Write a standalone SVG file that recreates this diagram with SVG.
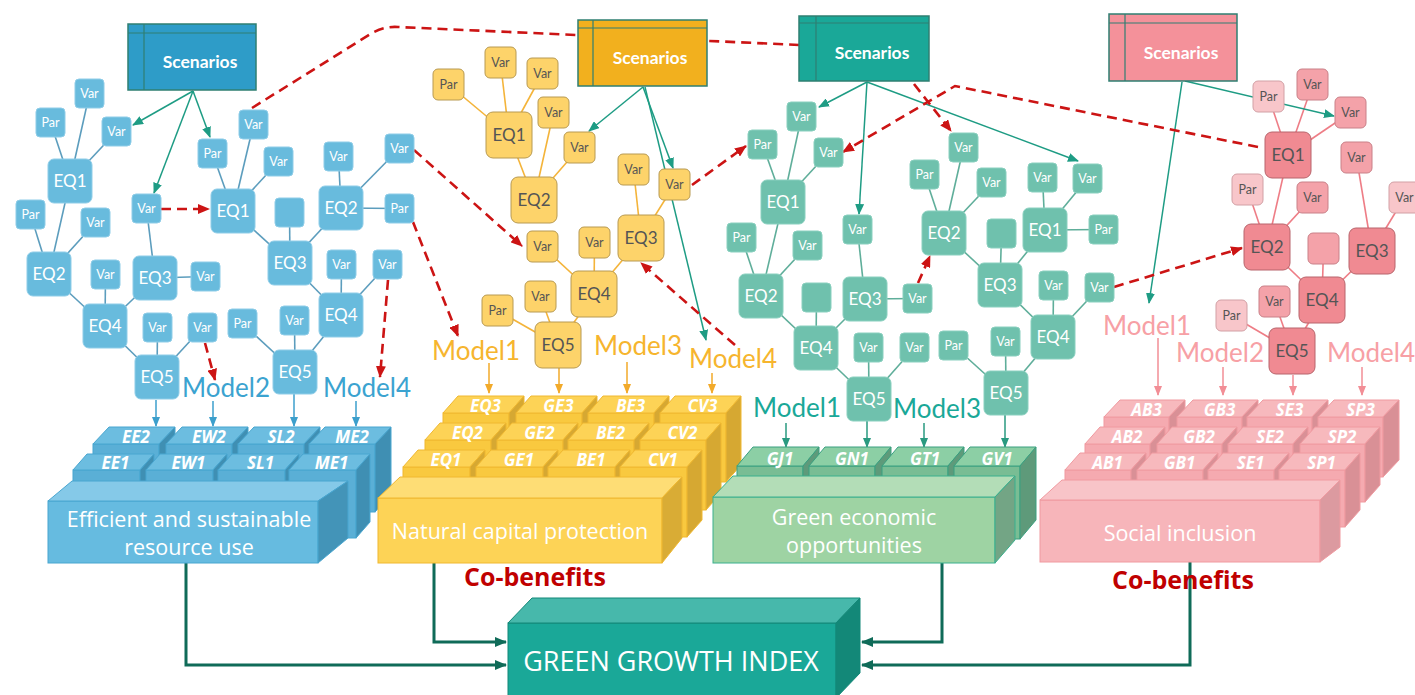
<svg xmlns="http://www.w3.org/2000/svg" width="1415" height="695" viewBox="0 0 1415 695">
<defs>
<style>
.lb{stroke:#5c9dbd;stroke-width:1.6}
.ly{stroke:#f4b43a;stroke-width:1.6}
.lt{stroke:#5fae9a;stroke-width:1.6}
.lp{stroke:#ee7d86;stroke-width:1.6}
.dash{fill:none;stroke:#cc1414;stroke-width:2.6;stroke-dasharray:10 6}
.da{marker-end:url(#mr)}
.sc{fill:none;stroke:#1e9c84;stroke-width:1.5;marker-end:url(#mg)}
.ab{stroke:#3c9fcc;stroke-width:1.5;marker-end:url(#mb)}
.ay{stroke:#f2aa2a;stroke-width:1.5;marker-end:url(#my)}
.at{stroke:#2a9a80;stroke-width:1.5;marker-end:url(#mt)}
.ap{stroke:#f28e96;stroke-width:1.5;marker-end:url(#mp)}
.gg{fill:none;stroke:#0f6b58;stroke-width:3;marker-end:url(#md)}
.nb{fill:#68bbdd;stroke:#8fcde8;stroke-width:1}
.ny{fill:#fdd36a;stroke:#b89a52;stroke-width:1}
.nt{fill:#6fc1ad;stroke:#8ad0bf;stroke-width:1}
.npE{fill:#f08a92;stroke:#b8656c;stroke-width:1}
.npV{fill:#f4a2a9;stroke:#c98088;stroke-width:1}
.npP{fill:#f8c6ca;stroke:#d2a0a5;stroke-width:1}
.scn{stroke:#2f7f72;stroke-width:1.5}
.scl{fill:none;stroke:#2f7f72;stroke-width:1.2}
text{font-family:Lato,"Open Sans","DejaVu Sans",sans-serif;text-anchor:middle}
.e{font-size:17px}
.v{font-size:12.5px}
.w{fill:#fff}
.g{fill:#555}
.st{font-size:17.5px;font-weight:700;fill:#fff}
.m{font-size:26px;font-weight:400}
.bk{font-family:"Open Sans","DejaVu Sans",sans-serif;font-size:17px;font-weight:700;font-style:italic;fill:#fff}
.bg{font-family:"Open Sans","DejaVu Sans",sans-serif;font-size:21.5px;fill:#fff}
.cb{font-family:"Open Sans","DejaVu Sans",sans-serif;font-size:25px;font-weight:700;fill:#c00000}
.bF{fill:#5aafd6;stroke:#49a6d0}.bT{fill:#6cbde0;stroke:#49a6d0}.bS{fill:#3f8fb3;stroke:#49a6d0}
.yF{fill:#f9c93f;stroke:#f0b830}.yT{fill:#fdd356;stroke:#f0b830}.yS{fill:#d6a832;stroke:#f0b830}
.gF{fill:#79bd94;stroke:#3aa080}.gT{fill:#8ccfa5;stroke:#3aa080}.gS{fill:#5e9a7a;stroke:#3aa080}
.pF{fill:#f5aab0;stroke:#f09aa0}.pT{fill:#f7b9bd;stroke:#f09aa0}.pS{fill:#d99096;stroke:#f09aa0}
</style>
<marker id="mr" markerUnits="userSpaceOnUse" markerWidth="12" markerHeight="10" refX="11" refY="5" orient="auto"><path d="M0,0 L12,5 L0,10 z" fill="#cc1414"/></marker>
<marker id="mg" markerUnits="userSpaceOnUse" markerWidth="11" markerHeight="9" refX="10" refY="4.5" orient="auto"><path d="M0,0 L11,4.5 L0,9 z" fill="#1e9c84"/></marker>
<marker id="mb" markerUnits="userSpaceOnUse" markerWidth="10" markerHeight="8" refX="9" refY="4" orient="auto"><path d="M0,0 L10,4 L0,8 z" fill="#3c9fcc"/></marker>
<marker id="my" markerUnits="userSpaceOnUse" markerWidth="10" markerHeight="8" refX="9" refY="4" orient="auto"><path d="M0,0 L10,4 L0,8 z" fill="#f2aa2a"/></marker>
<marker id="mt" markerUnits="userSpaceOnUse" markerWidth="10" markerHeight="8" refX="9" refY="4" orient="auto"><path d="M0,0 L10,4 L0,8 z" fill="#2a9a80"/></marker>
<marker id="mp" markerUnits="userSpaceOnUse" markerWidth="10" markerHeight="8" refX="9" refY="4" orient="auto"><path d="M0,0 L10,4 L0,8 z" fill="#f28e96"/></marker>
<marker id="md" markerUnits="userSpaceOnUse" markerWidth="12" markerHeight="10" refX="11" refY="5" orient="auto"><path d="M0,0 L12,5 L0,10 z" fill="#0f6b58"/></marker>
</defs>
<rect x="0" y="0" width="1415" height="695" fill="#fff"/>

<g id="connectors">
<g id="tree-links-blue" class="lb">
<line x1="70" y1="181" x2="89.5" y2="93.5"/><line x1="70" y1="181" x2="50.5" y2="122.5"/><line x1="70" y1="181" x2="116.5" y2="131.5"/><line x1="70" y1="181" x2="49" y2="274"/>
<line x1="49" y1="274" x2="30.5" y2="214.5"/><line x1="49" y1="274" x2="95.5" y2="222.5"/><line x1="49" y1="274" x2="105" y2="326"/>
<line x1="105" y1="326" x2="105.5" y2="274.5"/><line x1="105" y1="326" x2="155" y2="278"/><line x1="155" y1="278" x2="146.5" y2="208.5"/><line x1="155" y1="278" x2="205.5" y2="276.5"/>
<line x1="105" y1="326" x2="157" y2="377"/><line x1="157" y1="377" x2="157.5" y2="327.5"/><line x1="157" y1="377" x2="202.5" y2="327.5"/>
<line x1="233" y1="211" x2="212.5" y2="153.5"/><line x1="233" y1="211" x2="253.5" y2="124.5"/><line x1="233" y1="211" x2="278.5" y2="161.5"/><line x1="233" y1="211" x2="290" y2="263"/>
<line x1="290" y1="263" x2="289.5" y2="212.5"/><line x1="290" y1="263" x2="341" y2="208"/><line x1="341" y1="208" x2="338.5" y2="156.5"/><line x1="341" y1="208" x2="399.5" y2="148.5"/><line x1="341" y1="208" x2="399.5" y2="208.5"/>
<line x1="290" y1="263" x2="341" y2="315"/><line x1="341" y1="315" x2="341.5" y2="264.5"/><line x1="341" y1="315" x2="387.5" y2="264.5"/><line x1="341" y1="315" x2="295" y2="372"/>
<line x1="295" y1="372" x2="294.5" y2="320.5"/><line x1="295" y1="372" x2="242.5" y2="323.5"/>
</g>
<g id="tree-links-yellow" class="ly">
<line x1="509" y1="135" x2="448.5" y2="84.5"/><line x1="509" y1="135" x2="500.5" y2="62.5"/><line x1="509" y1="135" x2="542.5" y2="73.5"/><line x1="509" y1="135" x2="534" y2="200"/>
<line x1="534" y1="200" x2="553.5" y2="112.5"/><line x1="534" y1="200" x2="579.5" y2="147.5"/>
<line x1="641" y1="238" x2="633.5" y2="169.5"/><line x1="641" y1="238" x2="674.5" y2="184.5"/><line x1="641" y1="238" x2="594" y2="294"/>
<line x1="594" y1="294" x2="542.5" y2="246.5"/><line x1="594" y1="294" x2="594.5" y2="242.5"/><line x1="594" y1="294" x2="558" y2="345"/>
<line x1="558" y1="345" x2="540.5" y2="296.5"/><line x1="558" y1="345" x2="497.5" y2="310.5"/>
</g>
<g id="tree-links-teal" class="lt">
<line x1="783" y1="202" x2="801.5" y2="116.5"/><line x1="783" y1="202" x2="762.5" y2="144.5"/><line x1="783" y1="202" x2="828.5" y2="152.5"/><line x1="783" y1="202" x2="761" y2="296"/>
<line x1="761" y1="296" x2="741.5" y2="237.5"/><line x1="761" y1="296" x2="807.5" y2="245.5"/><line x1="761" y1="296" x2="816" y2="348"/>
<line x1="816" y1="348" x2="816.5" y2="297.5"/><line x1="816" y1="348" x2="865" y2="299"/><line x1="865" y1="299" x2="857.5" y2="229.5"/><line x1="865" y1="299" x2="917.5" y2="298.5"/>
<line x1="816" y1="348" x2="869" y2="399"/><line x1="869" y1="399" x2="868.5" y2="347.5"/><line x1="869" y1="399" x2="914.5" y2="347.5"/>
<line x1="944" y1="233" x2="963.5" y2="147.5"/><line x1="944" y1="233" x2="924.5" y2="174.5"/><line x1="944" y1="233" x2="991.5" y2="182.5"/><line x1="944" y1="233" x2="1000" y2="285"/>
<line x1="1000" y1="285" x2="1001.5" y2="233.5"/><line x1="1000" y1="285" x2="1045" y2="230"/><line x1="1045" y1="230" x2="1042.5" y2="177.5"/><line x1="1045" y1="230" x2="1087.5" y2="178.5"/><line x1="1045" y1="230" x2="1103.5" y2="229.5"/>
<line x1="1000" y1="285" x2="1053" y2="337"/><line x1="1053" y1="337" x2="1053.5" y2="285.5"/><line x1="1053" y1="337" x2="1099.5" y2="287.5"/><line x1="1053" y1="337" x2="1006" y2="393"/>
<line x1="1006" y1="393" x2="1005.5" y2="341.5"/><line x1="1006" y1="393" x2="953.5" y2="345.5"/>
</g>
<g id="tree-links-pink" class="lp">
<line x1="1288" y1="155" x2="1268.5" y2="96.5"/><line x1="1288" y1="155" x2="1312.5" y2="84.5"/><line x1="1288" y1="155" x2="1350.5" y2="112.5"/><line x1="1288" y1="155" x2="1267" y2="247"/>
<line x1="1267" y1="247" x2="1247.5" y2="189.5"/><line x1="1267" y1="247" x2="1312.5" y2="197.5"/><line x1="1267" y1="247" x2="1322" y2="300"/>
<line x1="1322" y1="300" x2="1323.5" y2="248.5"/><line x1="1322" y1="300" x2="1372" y2="251"/><line x1="1372" y1="251" x2="1356.5" y2="157.5"/><line x1="1372" y1="251" x2="1404.5" y2="197.5"/>
<line x1="1322" y1="300" x2="1292" y2="351"/><line x1="1292" y1="351" x2="1274.5" y2="301.5"/><line x1="1292" y1="351" x2="1231.5" y2="315.5"/>
</g>
<g id="scenario-links">
<line class="sc" x1="193" y1="91" x2="133" y2="125"/>
<line class="sc" x1="193" y1="91" x2="154" y2="193"/>
<line class="sc" x1="193" y1="91" x2="210" y2="137"/>
<line class="sc" x1="643" y1="87" x2="589" y2="131"/>
<line class="sc" x1="643" y1="87" x2="673" y2="168"/>
<line class="sc" x1="645" y1="87" x2="706" y2="340"/>
<line class="sc" x1="867" y1="82" x2="819" y2="107"/>
<line class="sc" x1="867" y1="82" x2="859" y2="214"/>
<line class="sc" x1="867" y1="82" x2="1078" y2="161"/>
<line class="sc" x1="1185" y1="81" x2="1334" y2="116"/>
<line class="sc" x1="1182" y1="82" x2="1149" y2="303"/>
</g>
<g id="red-links">
<path class="dash" d="M252,108 L372,33 Q385,26 398,27 L800,45"/>
<path class="dash da" d="M161,209 L209,209"/>
<path class="dash da" d="M205,343 L215,380"/>
<path class="dash da" d="M388,280 L380,377"/>
<path class="dash da" d="M413,222 L458,336"/>
<path class="dash da" d="M414,150 L522,246"/>
<path class="dash da" d="M692,185 L746,146"/>
<path class="dash da" d="M735,345 L641,263"/>
<path class="dash da" d="M914,84 L951,131"/>
<path class="dash da" d="M1258,147 L955,86 L843,152"/>
<path class="dash da" d="M918,283 L930,256"/>
<path class="dash da" d="M1114,287 L1242,248"/>
</g>
<g id="model-links">
<line class="ab" x1="156" y1="400" x2="156" y2="426"/><line class="ab" x1="213" y1="401" x2="213" y2="426"/><line class="ab" x1="294" y1="393" x2="294" y2="426"/><line class="ab" x1="356" y1="401" x2="356" y2="426"/>
<line class="ay" x1="489" y1="363" x2="489" y2="393"/><line class="ay" x1="559" y1="368" x2="559" y2="393"/><line class="ay" x1="627" y1="362" x2="627" y2="393"/><line class="ay" x1="712" y1="373" x2="712" y2="393"/>
<line class="at" x1="786" y1="423" x2="786" y2="447"/><line class="at" x1="867" y1="421" x2="867" y2="447"/><line class="at" x1="924" y1="423" x2="924" y2="447"/><line class="at" x1="1005" y1="415" x2="1005" y2="447"/>
<line class="ap" x1="1158" y1="338" x2="1158" y2="395"/><line class="ap" x1="1223" y1="367" x2="1223" y2="395"/><line class="ap" x1="1293" y1="375" x2="1293" y2="395"/><line class="ap" x1="1362" y1="367" x2="1362" y2="395"/>
</g>
<g id="index-links">
<path class="gg" d="M186,563 L186,665 L506,665"/>
<path class="gg" d="M434,563 L434,642 L506,642"/>
<path class="gg" d="M942,563 L942,642 L862,642"/>
<path class="gg" d="M1190,562 L1190,665 L862,665"/>
</g>
</g>

<g id="scenarios-blue"><rect class="scn" x="128" y="24" width="128" height="66" fill="#2e9cc8"/><path class="scl" d="M128,33 H256 M144,24 V90"/><text class="st" x="200" y="68">Scenarios</text></g>
<g id="scenarios-yellow"><rect class="scn" x="578" y="20" width="129" height="66" fill="#f2b01e"/><path class="scl" d="M578,28 H707 M593,20 V86"/><text class="st" x="650" y="64">Scenarios</text></g>
<g id="scenarios-teal"><rect class="scn" x="799" y="16" width="130" height="65" fill="#1aa898"/><path class="scl" d="M799,23 H929 M816,16 V81"/><text class="st" x="872" y="59">Scenarios</text></g>
<g id="scenarios-pink"><rect class="scn" x="1109" y="14" width="128" height="67" fill="#f4919a"/><path class="scl" d="M1109,23 H1237 M1125,14 V81"/><text class="st" x="1181" y="59">Scenarios</text></g>

<g id="blue-nodes">
<g id="b1"><rect class="nb" x="75" y="79" width="29" height="29" rx="4"/><text class="v w" x="89.5" y="98">Var</text></g>
<g id="b2"><rect class="nb" x="36" y="108" width="29" height="29" rx="4"/><text class="v w" x="50.5" y="127">Par</text></g>
<g id="b3"><rect class="nb" x="102" y="117" width="29" height="29" rx="4"/><text class="v w" x="116.5" y="136">Var</text></g>
<g id="b4"><rect class="nb" x="48" y="159" width="44" height="44" rx="6"/><text class="e w" x="70" y="187">EQ1</text></g>
<g id="b5"><rect class="nb" x="16" y="200" width="29" height="29" rx="4"/><text class="v w" x="30.5" y="219">Par</text></g>
<g id="b6"><rect class="nb" x="81" y="208" width="29" height="29" rx="4"/><text class="v w" x="95.5" y="227">Var</text></g>
<g id="b7"><rect class="nb" x="27" y="252" width="44" height="44" rx="6"/><text class="e w" x="49" y="280">EQ2</text></g>
<g id="b8"><rect class="nb" x="91" y="260" width="29" height="29" rx="4"/><text class="v w" x="105.5" y="279">Var</text></g>
<g id="b9"><rect class="nb" x="83" y="304" width="44" height="44" rx="6"/><text class="e w" x="105" y="332">EQ4</text></g>
<g id="b10"><rect class="nb" x="133" y="256" width="44" height="44" rx="6"/><text class="e w" x="155" y="284">EQ3</text></g>
<g id="b11"><rect class="nb" x="191" y="262" width="29" height="29" rx="4"/><text class="v w" x="205.5" y="281">Var</text></g>
<g id="b12"><rect class="nb" x="132" y="194" width="29" height="29" rx="4"/><text class="v w" x="146.5" y="213">Var</text></g>
<g id="b13"><rect class="nb" x="143" y="313" width="29" height="29" rx="4"/><text class="v w" x="157.5" y="332">Var</text></g>
<g id="b14"><rect class="nb" x="188" y="313" width="29" height="29" rx="4"/><text class="v w" x="202.5" y="332">Var</text></g>
<g id="b15"><rect class="nb" x="135" y="355" width="44" height="44" rx="6"/><text class="e w" x="157" y="383">EQ5</text></g>
<g id="b16"><rect class="nb" x="198" y="139" width="29" height="29" rx="4"/><text class="v w" x="212.5" y="158">Par</text></g>
<g id="b17"><rect class="nb" x="239" y="110" width="29" height="29" rx="4"/><text class="v w" x="253.5" y="129">Var</text></g>
<g id="b18"><rect class="nb" x="264" y="147" width="29" height="29" rx="4"/><text class="v w" x="278.5" y="166">Var</text></g>
<g id="b19"><rect class="nb" x="211" y="189" width="44" height="44" rx="6"/><text class="e w" x="233" y="217">EQ1</text></g>
<g id="b20"><rect class="nb" x="275" y="198" width="29" height="29" rx="4"/></g>
<g id="b21"><rect class="nb" x="268" y="241" width="44" height="44" rx="6"/><text class="e w" x="290" y="269">EQ3</text></g>
<g id="b22"><rect class="nb" x="324" y="142" width="29" height="29" rx="4"/><text class="v w" x="338.5" y="161">Var</text></g>
<g id="b23"><rect class="nb" x="319" y="186" width="44" height="44" rx="6"/><text class="e w" x="341" y="214">EQ2</text></g>
<g id="b24"><rect class="nb" x="385" y="134" width="29" height="29" rx="4"/><text class="v w" x="399.5" y="153">Var</text></g>
<g id="b25"><rect class="nb" x="385" y="194" width="29" height="29" rx="4"/><text class="v w" x="399.5" y="213">Par</text></g>
<g id="b26"><rect class="nb" x="327" y="250" width="29" height="29" rx="4"/><text class="v w" x="341.5" y="269">Var</text></g>
<g id="b27"><rect class="nb" x="373" y="250" width="29" height="29" rx="4"/><text class="v w" x="387.5" y="269">Var</text></g>
<g id="b28"><rect class="nb" x="319" y="293" width="44" height="44" rx="6"/><text class="e w" x="341" y="321">EQ4</text></g>
<g id="b29"><rect class="nb" x="228" y="309" width="29" height="29" rx="4"/><text class="v w" x="242.5" y="328">Par</text></g>
<g id="b30"><rect class="nb" x="280" y="306" width="29" height="29" rx="4"/><text class="v w" x="294.5" y="325">Var</text></g>
<g id="b31"><rect class="nb" x="273" y="350" width="44" height="44" rx="6"/><text class="e w" x="295" y="378">EQ5</text></g>
</g>

<g id="yellow-nodes">
<g id="y1"><rect class="ny" x="433" y="69" width="31" height="31" rx="5"/><text class="v g" x="448.5" y="89">Par</text></g>
<g id="y2"><rect class="ny" x="485" y="47" width="31" height="31" rx="5"/><text class="v g" x="500.5" y="67">Var</text></g>
<g id="y3"><rect class="ny" x="527" y="58" width="31" height="31" rx="5"/><text class="v g" x="542.5" y="78">Var</text></g>
<g id="y4"><rect class="ny" x="486" y="112" width="46" height="46" rx="7"/><text class="e g" x="509" y="141">EQ1</text></g>
<g id="y5"><rect class="ny" x="538" y="97" width="31" height="31" rx="5"/><text class="v g" x="553.5" y="117">Var</text></g>
<g id="y6"><rect class="ny" x="564" y="132" width="31" height="31" rx="5"/><text class="v g" x="579.5" y="152">Var</text></g>
<g id="y7"><rect class="ny" x="511" y="177" width="46" height="46" rx="7"/><text class="e g" x="534" y="206">EQ2</text></g>
<g id="y8"><rect class="ny" x="618" y="154" width="31" height="31" rx="5"/><text class="v g" x="633.5" y="174">Var</text></g>
<g id="y9"><rect class="ny" x="659" y="169" width="31" height="31" rx="5"/><text class="v g" x="674.5" y="189">Var</text></g>
<g id="y10"><rect class="ny" x="618" y="215" width="46" height="46" rx="7"/><text class="e g" x="641" y="244">EQ3</text></g>
<g id="y11"><rect class="ny" x="527" y="231" width="31" height="31" rx="5"/><text class="v g" x="542.5" y="251">Var</text></g>
<g id="y12"><rect class="ny" x="579" y="227" width="31" height="31" rx="5"/><text class="v g" x="594.5" y="247">Var</text></g>
<g id="y13"><rect class="ny" x="571" y="271" width="46" height="46" rx="7"/><text class="e g" x="594" y="300">EQ4</text></g>
<g id="y14"><rect class="ny" x="525" y="281" width="31" height="31" rx="5"/><text class="v g" x="540.5" y="301">Var</text></g>
<g id="y15"><rect class="ny" x="482" y="295" width="31" height="31" rx="5"/><text class="v g" x="497.5" y="315">Par</text></g>
<g id="y16"><rect class="ny" x="535" y="322" width="46" height="46" rx="7"/><text class="e g" x="558" y="351">EQ5</text></g>
</g>

<g id="teal-nodes">
<g id="t1"><rect class="nt" x="787" y="102" width="29" height="29" rx="4"/><text class="v w" x="801.5" y="121">Var</text></g>
<g id="t2"><rect class="nt" x="748" y="130" width="29" height="29" rx="4"/><text class="v w" x="762.5" y="149">Par</text></g>
<g id="t3"><rect class="nt" x="814" y="138" width="29" height="29" rx="4"/><text class="v w" x="828.5" y="157">Var</text></g>
<g id="t4"><rect class="nt" x="761" y="180" width="44" height="44" rx="6"/><text class="e w" x="783" y="208">EQ1</text></g>
<g id="t5"><rect class="nt" x="727" y="223" width="29" height="29" rx="4"/><text class="v w" x="741.5" y="242">Par</text></g>
<g id="t6"><rect class="nt" x="793" y="231" width="29" height="29" rx="4"/><text class="v w" x="807.5" y="250">Var</text></g>
<g id="t7"><rect class="nt" x="739" y="274" width="44" height="44" rx="6"/><text class="e w" x="761" y="302">EQ2</text></g>
<g id="t8"><rect class="nt" x="802" y="283" width="29" height="29" rx="4"/></g>
<g id="t9"><rect class="nt" x="843" y="277" width="44" height="44" rx="6"/><text class="e w" x="865" y="305">EQ3</text></g>
<g id="t10"><rect class="nt" x="843" y="215" width="29" height="29" rx="4"/><text class="v w" x="857.5" y="234">Var</text></g>
<g id="t11"><rect class="nt" x="903" y="284" width="29" height="29" rx="4"/><text class="v w" x="917.5" y="303">Var</text></g>
<g id="t12"><rect class="nt" x="794" y="326" width="44" height="44" rx="6"/><text class="e w" x="816" y="354">EQ4</text></g>
<g id="t13"><rect class="nt" x="854" y="333" width="29" height="29" rx="4"/><text class="v w" x="868.5" y="352">Var</text></g>
<g id="t14"><rect class="nt" x="900" y="333" width="29" height="29" rx="4"/><text class="v w" x="914.5" y="352">Var</text></g>
<g id="t15"><rect class="nt" x="847" y="377" width="44" height="44" rx="6"/><text class="e w" x="869" y="405">EQ5</text></g>
<g id="t16"><rect class="nt" x="949" y="133" width="29" height="29" rx="4"/><text class="v w" x="963.5" y="152">Var</text></g>
<g id="t17"><rect class="nt" x="910" y="160" width="29" height="29" rx="4"/><text class="v w" x="924.5" y="179">Par</text></g>
<g id="t18"><rect class="nt" x="977" y="168" width="29" height="29" rx="4"/><text class="v w" x="991.5" y="187">Var</text></g>
<g id="t19"><rect class="nt" x="922" y="211" width="44" height="44" rx="6"/><text class="e w" x="944" y="239">EQ2</text></g>
<g id="t20"><rect class="nt" x="987" y="219" width="29" height="29" rx="4"/></g>
<g id="t21"><rect class="nt" x="978" y="263" width="44" height="44" rx="6"/><text class="e w" x="1000" y="291">EQ3</text></g>
<g id="t22"><rect class="nt" x="1028" y="163" width="29" height="29" rx="4"/><text class="v w" x="1042.5" y="182">Var</text></g>
<g id="t23"><rect class="nt" x="1073" y="164" width="29" height="29" rx="4"/><text class="v w" x="1087.5" y="183">Var</text></g>
<g id="t24"><rect class="nt" x="1023" y="208" width="44" height="44" rx="6"/><text class="e w" x="1045" y="236">EQ1</text></g>
<g id="t25"><rect class="nt" x="1089" y="215" width="29" height="29" rx="4"/><text class="v w" x="1103.5" y="234">Par</text></g>
<g id="t26"><rect class="nt" x="1039" y="271" width="29" height="29" rx="4"/><text class="v w" x="1053.5" y="290">Var</text></g>
<g id="t27"><rect class="nt" x="1085" y="273" width="29" height="29" rx="4"/><text class="v w" x="1099.5" y="292">Var</text></g>
<g id="t28"><rect class="nt" x="1031" y="315" width="44" height="44" rx="6"/><text class="e w" x="1053" y="343">EQ4</text></g>
<g id="t29"><rect class="nt" x="991" y="327" width="29" height="29" rx="4"/><text class="v w" x="1005.5" y="346">Var</text></g>
<g id="t30"><rect class="nt" x="939" y="331" width="29" height="29" rx="4"/><text class="v w" x="953.5" y="350">Par</text></g>
<g id="t31"><rect class="nt" x="984" y="371" width="44" height="44" rx="6"/><text class="e w" x="1006" y="399">EQ5</text></g>
</g>

<g id="pink-nodes">
<g id="p1"><rect class="npP" x="1253" y="81" width="31" height="31" rx="5"/><text class="v g" x="1268.5" y="101">Par</text></g>
<g id="p2"><rect class="npV" x="1297" y="69" width="31" height="31" rx="5"/><text class="v g" x="1312.5" y="89">Var</text></g>
<g id="p3"><rect class="npV" x="1335" y="97" width="31" height="31" rx="5"/><text class="v g" x="1350.5" y="117">Var</text></g>
<g id="p4"><rect class="npE" x="1265" y="132" width="46" height="46" rx="7"/><text class="e g" x="1288" y="161">EQ1</text></g>
<g id="p5"><rect class="npP" x="1232" y="174" width="31" height="31" rx="5"/><text class="v g" x="1247.5" y="194">Par</text></g>
<g id="p6"><rect class="npV" x="1297" y="182" width="31" height="31" rx="5"/><text class="v g" x="1312.5" y="202">Var</text></g>
<g id="p7"><rect class="npE" x="1244" y="224" width="46" height="46" rx="7"/><text class="e g" x="1267" y="253">EQ2</text></g>
<g id="p8"><rect class="npV" x="1308" y="233" width="31" height="31" rx="5"/></g>
<g id="p9"><rect class="npV" x="1341" y="142" width="31" height="31" rx="5"/><text class="v g" x="1356.5" y="162">Var</text></g>
<g id="p10"><rect class="npE" x="1349" y="228" width="46" height="46" rx="7"/><text class="e g" x="1372" y="257">EQ3</text></g>
<g id="p11"><rect class="npP" x="1389" y="182" width="31" height="31" rx="5"/><text class="v g" x="1404.5" y="202">Var</text></g>
<g id="p12"><rect class="npE" x="1299" y="277" width="46" height="46" rx="7"/><text class="e g" x="1322" y="306">EQ4</text></g>
<g id="p13"><rect class="npV" x="1259" y="286" width="31" height="31" rx="5"/><text class="v g" x="1274.5" y="306">Var</text></g>
<g id="p14"><rect class="npP" x="1216" y="300" width="31" height="31" rx="5"/><text class="v g" x="1231.5" y="320">Par</text></g>
<g id="p15"><rect class="npE" x="1269" y="328" width="46" height="46" rx="7"/><text class="e g" x="1292" y="357">EQ5</text></g>
</g>

<g id="model-labels">
<text class="m" fill="#3ba3d0" x="226" y="397">Model2</text>
<text class="m" fill="#3ba3d0" x="367" y="397">Model4</text>
<text class="m" fill="#f6b52e" x="476" y="360">Model1</text>
<text class="m" fill="#f6b52e" x="638" y="355">Model3</text>
<text class="m" fill="#f6b52e" x="733" y="368">Model4</text>
<text class="m" fill="#1aa898" x="797" y="417">Model1</text>
<text class="m" fill="#1aa898" x="937" y="418">Model3</text>
<text class="m" fill="#f7a0a5" x="1147" y="335">Model1</text>
<text class="m" fill="#f7a0a5" x="1220" y="362">Model2</text>
<text class="m" fill="#f7a0a5" x="1371" y="362">Model4</text>
</g>

<g id="block-blue">
<g id="EE2"><rect class="bF" x="93" y="444" width="66" height="68"/><polygon class="bT" points="93,444 109,427 175,427 159,444"/><polygon class="bS" points="159,444 175,427 175,495 159,512"/><text class="bk" x="136" y="443">EE2</text></g>
<g id="EW2"><rect class="bF" x="166" y="444" width="66" height="68"/><polygon class="bT" points="166,444 182,427 248,427 232,444"/><polygon class="bS" points="232,444 248,427 248,495 232,512"/><text class="bk" x="209" y="443">EW2</text></g>
<g id="SL2"><rect class="bF" x="238" y="444" width="66" height="68"/><polygon class="bT" points="238,444 254,427 320,427 304,444"/><polygon class="bS" points="304,444 320,427 320,495 304,512"/><text class="bk" x="281" y="443">SL2</text></g>
<g id="ME2"><rect class="bF" x="309" y="444" width="66" height="68"/><polygon class="bT" points="309,444 325,427 391,427 375,444"/><polygon class="bS" points="375,444 391,427 391,495 375,512"/><text class="bk" x="352" y="443">ME2</text></g>
<g id="EE1"><rect class="bF" x="73" y="470" width="67" height="68"/><polygon class="bT" points="73,470 87,454 154,454 140,470"/><polygon class="bS" points="140,470 154,454 154,522 140,538"/><text class="bk" x="115.5" y="469">EE1</text></g>
<g id="EW1"><rect class="bF" x="146" y="470" width="67" height="68"/><polygon class="bT" points="146,470 160,454 227,454 213,470"/><polygon class="bS" points="213,470 227,454 227,522 213,538"/><text class="bk" x="188.5" y="469">EW1</text></g>
<g id="SL1"><rect class="bF" x="218" y="470" width="67" height="68"/><polygon class="bT" points="218,470 232,454 299,454 285,470"/><polygon class="bS" points="285,470 299,454 299,522 285,538"/><text class="bk" x="260.5" y="469">SL1</text></g>
<g id="ME1"><rect class="bF" x="289" y="470" width="67" height="68"/><polygon class="bT" points="289,470 303,454 370,454 356,470"/><polygon class="bS" points="356,470 370,454 370,522 356,538"/><text class="bk" x="331.5" y="469">ME1</text></g>
<g id="efficient"><rect x="48" y="501" width="270" height="62" fill="#66bbe0" stroke="#49a6d0"/><polygon points="48,501 72,481 348,481 318,501" fill="#85c9e8" stroke="#49a6d0"/><polygon points="318,501 348,481 348,538 318,563" fill="#4394b8" stroke="#49a6d0"/><text class="bg" x="189" y="527">Efficient and sustainable</text><text class="bg" x="189" y="555">resource use</text></g>
</g>

<g id="block-yellow">
<g id="EQ3b"><rect class="yF" x="443" y="413" width="66" height="69"/><polygon class="yT" points="443,413 458,396 524,396 509,413"/><polygon class="yS" points="509,413 524,396 524,465 509,482"/><text class="bk" x="485.5" y="412">EQ3</text></g>
<g id="GE3"><rect class="yF" x="516" y="413" width="66" height="69"/><polygon class="yT" points="516,413 531,396 597,396 582,413"/><polygon class="yS" points="582,413 597,396 597,465 582,482"/><text class="bk" x="558.5" y="412">GE3</text></g>
<g id="BE3"><rect class="yF" x="588" y="413" width="66" height="69"/><polygon class="yT" points="588,413 603,396 669,396 654,413"/><polygon class="yS" points="654,413 669,396 669,465 654,482"/><text class="bk" x="630.5" y="412">BE3</text></g>
<g id="CV3"><rect class="yF" x="660" y="413" width="66" height="69"/><polygon class="yT" points="660,413 675,396 741,396 726,413"/><polygon class="yS" points="726,413 741,396 741,465 726,482"/><text class="bk" x="702.5" y="412">CV3</text></g>
<g id="EQ2b"><rect class="yF" x="425" y="440" width="66" height="70"/><polygon class="yT" points="425,440 440,423 506,423 491,440"/><polygon class="yS" points="491,440 506,423 506,493 491,510"/><text class="bk" x="467.5" y="439">EQ2</text></g>
<g id="GE2"><rect class="yF" x="497" y="440" width="66" height="70"/><polygon class="yT" points="497,440 512,423 578,423 563,440"/><polygon class="yS" points="563,440 578,423 578,493 563,510"/><text class="bk" x="539.5" y="439">GE2</text></g>
<g id="BE2"><rect class="yF" x="568" y="440" width="66" height="70"/><polygon class="yT" points="568,440 583,423 649,423 634,440"/><polygon class="yS" points="634,440 649,423 649,493 634,510"/><text class="bk" x="610.5" y="439">BE2</text></g>
<g id="CV2"><rect class="yF" x="640" y="440" width="66" height="70"/><polygon class="yT" points="640,440 655,423 721,423 706,440"/><polygon class="yS" points="706,440 721,423 721,493 706,510"/><text class="bk" x="682.5" y="439">CV2</text></g>
<g id="EQ1b"><rect class="yF" x="403" y="467" width="67" height="70"/><polygon class="yT" points="403,467 418,450 485,450 470,467"/><polygon class="yS" points="470,467 485,450 485,520 470,537"/><text class="bk" x="446" y="466">EQ1</text></g>
<g id="GE1"><rect class="yF" x="476" y="467" width="67" height="70"/><polygon class="yT" points="476,467 491,450 558,450 543,467"/><polygon class="yS" points="543,467 558,450 558,520 543,537"/><text class="bk" x="519" y="466">GE1</text></g>
<g id="BE1"><rect class="yF" x="548" y="467" width="67" height="70"/><polygon class="yT" points="548,467 563,450 630,450 615,467"/><polygon class="yS" points="615,467 630,450 630,520 615,537"/><text class="bk" x="591" y="466">BE1</text></g>
<g id="CV1"><rect class="yF" x="620" y="467" width="67" height="70"/><polygon class="yT" points="620,467 635,450 702,450 687,467"/><polygon class="yS" points="687,467 702,450 702,520 687,537"/><text class="bk" x="663" y="466">CV1</text></g>
<g id="natural"><rect x="378" y="498" width="284" height="65" fill="#fdd356" stroke="#f0b830"/><polygon points="378,498 400,477 682,477 662,498" fill="#fedd75" stroke="#f0b830"/><polygon points="662,498 682,477 682,538 662,563" fill="#d9ac35" stroke="#f0b830"/><text class="bg" x="520" y="539">Natural capital protection</text></g>
<text id="cobenefits1" class="cb" x="535" y="586">Co-benefits</text>
</g>

<g id="block-green">
<g id="GJ1"><rect class="gF" x="737" y="466" width="66" height="73"/><polygon class="gT" points="737,466 753,447 819,447 803,466"/><polygon class="gS" points="803,466 819,447 819,520 803,539"/><text class="bk" x="780" y="465">GJ1</text></g>
<g id="GN1"><rect class="gF" x="809" y="466" width="66" height="73"/><polygon class="gT" points="809,466 825,447 891,447 875,466"/><polygon class="gS" points="875,466 891,447 891,520 875,539"/><text class="bk" x="852" y="465">GN1</text></g>
<g id="GT1"><rect class="gF" x="882" y="466" width="66" height="73"/><polygon class="gT" points="882,466 898,447 964,447 948,466"/><polygon class="gS" points="948,466 964,447 964,520 948,539"/><text class="bk" x="925" y="465">GT1</text></g>
<g id="GV1"><rect class="gF" x="954" y="466" width="66" height="73"/><polygon class="gT" points="954,466 970,447 1036,447 1020,466"/><polygon class="gS" points="1020,466 1036,447 1036,520 1020,539"/><text class="bk" x="997" y="465">GV1</text></g>
<g id="green-econ"><rect x="713" y="497" width="282" height="66" fill="#9ed3a3" stroke="#3ab08e"/><polygon points="713,497 733,476 1015,476 995,497" fill="#b3ddb7" stroke="#3ab08e"/><polygon points="995,497 1015,476 1015,540 995,563" fill="#73a585" stroke="#3ab08e"/><text class="bg" x="854" y="525">Green economic</text><text class="bg" x="854" y="553">opportunities</text></g>
</g>

<g id="block-pink">
<g id="AB3"><rect class="pF" x="1104" y="417" width="65" height="60"/><polygon class="pT" points="1104,417 1120,400 1185,400 1169,417"/><polygon class="pS" points="1169,417 1185,400 1185,460 1169,477"/><text class="bk" x="1146.5" y="416">AB3</text></g>
<g id="GB3"><rect class="pF" x="1177" y="417" width="65" height="60"/><polygon class="pT" points="1177,417 1193,400 1258,400 1242,417"/><polygon class="pS" points="1242,417 1258,400 1258,460 1242,477"/><text class="bk" x="1219.5" y="416">GB3</text></g>
<g id="SE3"><rect class="pF" x="1247" y="417" width="65" height="60"/><polygon class="pT" points="1247,417 1263,400 1328,400 1312,417"/><polygon class="pS" points="1312,417 1328,400 1328,460 1312,477"/><text class="bk" x="1289.5" y="416">SE3</text></g>
<g id="SP3"><rect class="pF" x="1318" y="417" width="65" height="60"/><polygon class="pT" points="1318,417 1334,400 1399,400 1383,417"/><polygon class="pS" points="1383,417 1399,400 1399,460 1383,477"/><text class="bk" x="1360.5" y="416">SP3</text></g>
<g id="AB2"><rect class="pF" x="1085" y="444" width="65" height="58"/><polygon class="pT" points="1085,444 1100,427 1165,427 1150,444"/><polygon class="pS" points="1150,444 1165,427 1165,485 1150,502"/><text class="bk" x="1127" y="443">AB2</text></g>
<g id="GB2"><rect class="pF" x="1157" y="444" width="65" height="58"/><polygon class="pT" points="1157,444 1172,427 1237,427 1222,444"/><polygon class="pS" points="1222,444 1237,427 1237,485 1222,502"/><text class="bk" x="1199" y="443">GB2</text></g>
<g id="SE2"><rect class="pF" x="1228" y="444" width="65" height="58"/><polygon class="pT" points="1228,444 1243,427 1308,427 1293,444"/><polygon class="pS" points="1293,444 1308,427 1308,485 1293,502"/><text class="bk" x="1270" y="443">SE2</text></g>
<g id="SP2"><rect class="pF" x="1300" y="444" width="65" height="58"/><polygon class="pT" points="1300,444 1315,427 1380,427 1365,444"/><polygon class="pS" points="1365,444 1380,427 1380,485 1365,502"/><text class="bk" x="1342" y="443">SP2</text></g>
<g id="AB1"><rect class="pF" x="1065" y="470" width="66" height="57"/><polygon class="pT" points="1065,470 1080,453 1146,453 1131,470"/><polygon class="pS" points="1131,470 1146,453 1146,510 1131,527"/><text class="bk" x="1107.5" y="469">AB1</text></g>
<g id="GB1"><rect class="pF" x="1137" y="470" width="66" height="57"/><polygon class="pT" points="1137,470 1152,453 1218,453 1203,470"/><polygon class="pS" points="1203,470 1218,453 1218,510 1203,527"/><text class="bk" x="1179.5" y="469">GB1</text></g>
<g id="SE1"><rect class="pF" x="1208" y="470" width="66" height="57"/><polygon class="pT" points="1208,470 1223,453 1289,453 1274,470"/><polygon class="pS" points="1274,470 1289,453 1289,510 1274,527"/><text class="bk" x="1250.5" y="469">SE1</text></g>
<g id="SP1"><rect class="pF" x="1279" y="470" width="66" height="57"/><polygon class="pT" points="1279,470 1294,453 1360,453 1345,470"/><polygon class="pS" points="1345,470 1360,453 1360,510 1345,527"/><text class="bk" x="1321.5" y="469">SP1</text></g>
<g id="social"><rect x="1040" y="500" width="280" height="62" fill="#f7b5ba" stroke="#f09aa0"/><polygon points="1040,500 1062,480 1340,480 1320,500" fill="#f8c4c8" stroke="#f09aa0"/><polygon points="1320,500 1340,480 1340,547 1320,562" fill="#dc9aa0" stroke="#f09aa0"/><text class="bg" x="1180" y="541">Social inclusion</text></g>
<text id="cobenefits2" class="cb" x="1183" y="589">Co-benefits</text>
</g>

<g id="green-growth-index">
<rect x="508" y="623" width="328" height="75" fill="#1aa898" stroke="#138878"/>
<polygon points="508,623 532,598 860,598 836,623" fill="#47b8ab" stroke="#138878"/>
<polygon points="836,623 860,598 860,673 836,698" fill="#138878" stroke="#138878"/>
<text x="671" y="671" style="font-family:'Open Sans','DejaVu Sans',sans-serif;font-size:27px;fill:#fff">GREEN GROWTH INDEX</text>
</g>
</svg>
